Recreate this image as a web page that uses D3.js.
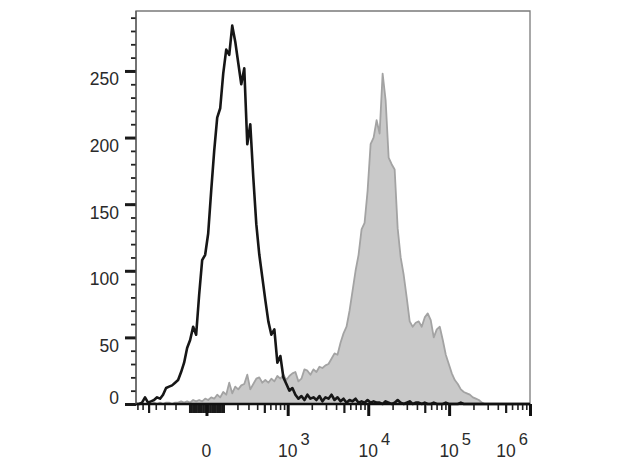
<!DOCTYPE html>
<html><head><meta charset="utf-8">
<script src="https://cdn.jsdelivr.net/npm/d3@7/dist/d3.min.js"></script>
<style>html,body{margin:0;padding:0;background:#fff;} svg{display:block;}</style>
</head><body>
<svg id="chart" width="618" height="464"></svg>
<script>
// ---- data ----
const xDomain = [-730, 1e6];          // fluorescence intensity range of the display
const yDomain = [0, 295];             // count
const yMajorTicks = [0, 50, 100, 150, 200, 250];
const yMinorTicks = d3.range(0, 291, 10);
const xMajorTicks = [0, 1e3, 1e4, 1e5, 1e6];
const xTickBases = ["0", "10", "10", "10", "10"];
const xTickExps = ["", "3", "4", "5", "6"];
// histogram counts on 132 channels, equally spaced over the display axis
const blackCounts = [
  0,0,1,5,1,2,3,5,4,7,
  12,13,14,16,18,24,31,42,48,58,
  52,82,108,112,128,160,190,215,222,248,
  266,262,284,272,256,240,252,195,210,170,
  135,112,95,78,62,52,56,31,36,20,
  15,10,12,7,4,6,3,7,4,5,
  3,6,2,5,4,7,3,5,2,4,
  1,3,2,4,1,2,1,3,1,2,
  1,1,0,2,1,0,1,3,1,0,
  1,2,0,1,1,0,1,0,0,1,
  0,0,0,1,0,0,0,0,1,0,
  0,0,0,0,0,0,0,0,0,0,
  0,0,0,0,0,0,0,0,0,0,
  0,0];
const grayCounts = [
  0,0,0,0,0,0,1,0,1,0,
  1,1,0,1,1,2,1,2,1,3,
  2,3,2,4,3,5,4,7,5,9,
  7,16,8,13,11,14,15,22,11,15,
  19,20,16,18,16,19,17,21,19,22,
  18,21,23,24,17,19,26,25,22,26,
  24,28,27,29,30,34,38,37,46,53,
  58,70,85,100,112,131,136,160,195,200,
  213,203,248,228,185,180,176,132,110,97,
  80,62,58,61,62,58,65,68,63,50,
  56,58,48,37,30,23,18,15,11,9,
  8,7,5,4,3,1,0,0,0,0,
  0,0,0,0,0,0,0,0,0,0,
  0,0];

// ---- layout ----
const L = 136, R = 530, TOP = 11, B = 404;
const FONT = "'Liberation Sans', Arial, Helvetica, sans-serif";
const svg = d3.select("#chart");

const tf = v => Math.asinh(v / 200);   // biexponential-like display transform
const xT = d3.scaleLinear().domain(xDomain.map(tf)).range([L, R]);
const xBin = d3.scaleLinear().domain([0, blackCounts.length - 1]).range(xT.range());
const y = d3.scaleLinear().domain(yDomain).range([B, TOP]);

// ---- gray filled histogram ----
const area = d3.area().x((d, i) => xBin(i)).y0(y(0)).y1(d => y(d));
svg.append("path").datum(grayCounts).attr("d", area)
  .attr("fill", "#c9c9c9").attr("stroke", "#a3a3a3").attr("stroke-width", 1.8)
  .attr("stroke-linejoin", "round");

// ---- black histogram line ----
const line = d3.line().x((d, i) => xBin(i)).y(d => y(d));
svg.append("path").datum(blackCounts).attr("d", line)
  .attr("fill", "none").attr("stroke", "#161616").attr("stroke-width", 2.6)
  .attr("stroke-linejoin", "round");

// ---- frame ----
svg.append("path").attr("d", `M${L},${B}V${TOP}H${R}V${B}`)
  .attr("fill", "none").attr("stroke", "#7a7a7a").attr("stroke-width", 1.3);

// ---- y axis ----
const yMinorAxis = d3.axisLeft(y).tickValues(yMinorTicks).tickSize(5).tickFormat("");
const gy1 = svg.append("g").attr("transform", `translate(${L},0)`).call(yMinorAxis);
gy1.select(".domain").remove();
gy1.selectAll("line").attr("stroke", "#222").attr("stroke-width", 1.8);

const yMajorAxis = d3.axisLeft(y).tickValues(yMajorTicks).tickSize(11).tickPadding(6)
  .tickFormat(d3.format("d"));
const gy2 = svg.append("g").attr("transform", `translate(${L},0)`).call(yMajorAxis);
gy2.select(".domain").remove();
gy2.selectAll("line").attr("stroke", "#1a1a1a").attr("stroke-width", 3);
gy2.selectAll("text")
  .attr("font-family", FONT).attr("font-size", 17.5).attr("fill", "#2a2a2a")
  .attr("x", -17).attr("dy", null)
  .attr("y", d => Math.min(y(d) + 14, B - 1) - y(d));

// ---- x axis ----
const xMinorVals = [];
[10, 100].forEach(dec => d3.range(1, 10).forEach(k => {
  const v = k * dec;
  if (v !== 1000) { xMinorVals.push(v); if (-v >= xDomain[0]) xMinorVals.push(-v); }
}));
[1e3, 1e4, 1e5].forEach(dec => d3.range(2, 10).forEach(k => xMinorVals.push(k * dec)));
const level = v => {
  const a = Math.abs(v);
  if (a <= 100) return 1;
  const lead = a / Math.pow(10, Math.floor(Math.log10(a)));
  return Math.abs(lead - 5) < 1e-9 ? 1 : 0;
};
const smallVals = xMinorVals.filter(v => level(v) === 0);
const medVals = xMinorVals.filter(v => level(v) === 1);

const gx0 = svg.append("g").attr("transform", `translate(0,${B})`)
  .call(d3.axisBottom(xT).tickValues(smallVals.map(tf)).tickSize(6).tickFormat(""));
gx0.select(".domain").remove();
gx0.selectAll("line").attr("stroke", "#222").attr("stroke-width", 1.6);

const gx1 = svg.append("g").attr("transform", `translate(0,${B})`)
  .call(d3.axisBottom(xT).tickValues(medVals.map(tf)).tickSize(9).tickFormat(""));
gx1.select(".domain").remove();
gx1.selectAll("line").attr("stroke", "#1a1a1a").attr("stroke-width", 2.2);

const gx2 = svg.append("g").attr("transform", `translate(0,${B})`)
  .call(d3.axisBottom(xT).tickValues(xMajorTicks.map(tf)).tickSize(12).tickFormat(""));
gx2.select(".domain").remove();
gx2.selectAll("line").attr("stroke", "#111").attr("stroke-width", 3);

// axis lines
svg.append("line").attr("x1", L).attr("x2", R).attr("y1", B).attr("y2", B)
  .attr("stroke", "#111").attr("stroke-width", 2.6);
svg.append("line").attr("x1", L).attr("x2", L).attr("y1", TOP).attr("y2", B)
  .attr("stroke", "#555").attr("stroke-width", 1.3);

// x tick labels
const labelY = 457;
xMajorTicks.forEach((v, i) => {
  const cx = xT(tf(v));
  const t = svg.append("text").attr("y", labelY)
    .attr("font-family", FONT).attr("font-size", 17.5).attr("fill", "#2a2a2a");
  const base = t.append("tspan").text(xTickBases[i]);
  const bw = base.node().getComputedTextLength();
  t.attr("x", cx - bw / 2);
  if (xTickExps[i]) {
    t.append("tspan").attr("dx", 3).attr("dy", -12).attr("font-size", 16.5).text(xTickExps[i]);
    const bb = t.node().getBBox();
    if (bb.x + bb.width > R) t.attr("x", cx - bw / 2 - (bb.x + bb.width - R + 2));
  }
});
</script>
</body></html>
